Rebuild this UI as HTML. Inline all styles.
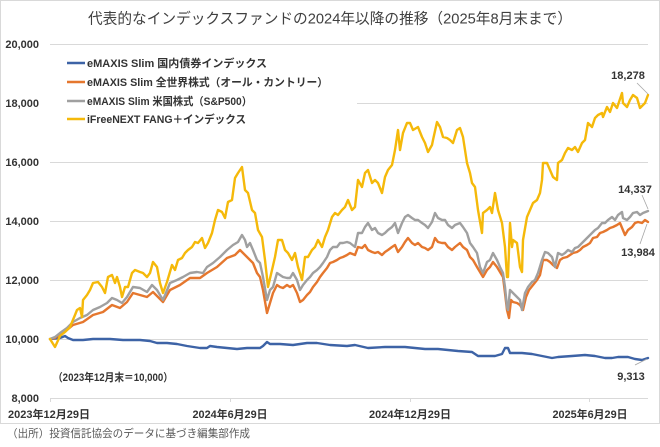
<!DOCTYPE html>
<html>
<head>
<meta charset="utf-8">
<style>
  html, body { margin: 0; padding: 0; background: #ffffff; }
  svg { display: block; }
  text { font-family: "Liberation Sans", "Noto Sans CJK JP", sans-serif; }
</style>
</head>
<body>
<svg width="660" height="447" viewBox="0 0 660 447" xmlns="http://www.w3.org/2000/svg">
  <rect x="0" y="0" width="660" height="447" fill="#ffffff"/>
  <rect x="0.5" y="0.5" width="659" height="423" fill="none" stroke="#d9d9d9" stroke-width="1"/>

  <!-- Title -->
  <text x="330" y="23.5" text-anchor="middle" font-size="15" fill="#404040" textLength="484" lengthAdjust="spacingAndGlyphs">代表的なインデックスファンドの2024年以降の推移（2025年8月末まで）</text>

  <!-- Gridlines -->
  <g stroke="#d9d9d9" stroke-width="1">
    <line x1="50" y1="44.5" x2="648" y2="44.5"/>
    <line x1="50" y1="103.5" x2="648" y2="103.5"/>
    <line x1="50" y1="162.5" x2="648" y2="162.5"/>
    <line x1="50" y1="221.5" x2="648" y2="221.5"/>
    <line x1="50" y1="280.5" x2="648" y2="280.5"/>
    <line x1="50" y1="339.5" x2="648" y2="339.5"/>
    <line x1="50" y1="398.5" x2="648" y2="398.5"/>
    <line x1="50.5" y1="398" x2="50.5" y2="402"/>
    <line x1="230.5" y1="398" x2="230.5" y2="402"/>
    <line x1="410.5" y1="398" x2="410.5" y2="402"/>
    <line x1="589.5" y1="398" x2="589.5" y2="402"/>
  </g>

  <!-- Y labels -->
  <g font-size="11" font-weight="bold" fill="#333333" text-anchor="end">
    <text x="39" y="48">20,000</text>
    <text x="39" y="107">18,000</text>
    <text x="39" y="166">16,000</text>
    <text x="39" y="225">14,000</text>
    <text x="39" y="284">12,000</text>
    <text x="39" y="343">10,000</text>
    <text x="39" y="402">8,000</text>
  </g>

  <!-- X labels -->
  <g font-size="11" font-weight="bold" fill="#333333" text-anchor="middle">
    <text x="49" y="418" textLength="82" lengthAdjust="spacingAndGlyphs">2023年12月29日</text>
    <text x="230" y="418" textLength="75" lengthAdjust="spacingAndGlyphs">2024年6月29日</text>
    <text x="410" y="418" textLength="82" lengthAdjust="spacingAndGlyphs">2024年12月29日</text>
    <text x="590" y="418" textLength="75" lengthAdjust="spacingAndGlyphs">2025年6月29日</text>
  </g>

  <!-- Legend -->
  <rect x="50" y="52" width="307" height="76" fill="#ffffff"/>
  <g stroke-width="2.4">
    <line x1="67" y1="63" x2="85" y2="63" stroke="#3d63a6"/>
    <line x1="67" y1="82" x2="85" y2="82" stroke="#e5772e"/>
    <line x1="67" y1="101" x2="85" y2="101" stroke="#a0a0a0"/>
    <line x1="67" y1="119" x2="85" y2="119" stroke="#f5b90a"/>
  </g>
  <g font-size="11" font-weight="bold" fill="#333333">
    <text x="87" y="67" textLength="180" lengthAdjust="spacingAndGlyphs">eMAXIS Slim 国内債券インデックス</text>
    <text x="87" y="86" textLength="241" lengthAdjust="spacingAndGlyphs">eMAXIS Slim 全世界株式（オール・カントリー）</text>
    <text x="87" y="105" textLength="165" lengthAdjust="spacingAndGlyphs">eMAXIS Slim 米国株式（S&amp;P500）</text>
    <text x="87" y="123" textLength="159" lengthAdjust="spacingAndGlyphs">iFreeNEXT FANG＋インデックス</text>
  </g>

  <!-- Series -->
  <g fill="none" stroke-width="2.4" stroke-linejoin="round" stroke-linecap="round">
    <polyline stroke="#3d63a6" points="50,339 60,338 65,336 68,338 73,340 83,340 93,339 110,339 123,340 140,340 150,341 157,343 167,343 177,344 187,346 200,348 207,348 210,346 217,347 227,348 237,349 247,348 260,348 263,346 267,342 270,344 280,344 293,345 307,343 317,343 330,345 347,346 355,345 368,348 385,347 405,347 425,349 438,349 458,351 472,352 478,356 495,356 502,354 505,348 508,348 510,353 522,353 532,354 542,356 552,358 558,357 572,356 585,355 595,356 605,358 612,358 618,357 628,357 635,359 642,360 648,358"/>
    <polyline stroke="#e5772e" points="50,339 55,338 60,334 67,330 73,325 83,322 93,315 103,312 112,305 120,308 127,302 133,293 140,295 147,297 153,292 163,302 170,290 180,285 190,278 200,278 207,273 217,267 227,258 235,255 240,250 243,253 247,257 250,260 253,263 257,273 260,277 263,290 267,313 270,303 273,293 277,285 280,287 283,288 287,285 290,287 293,285 297,293 300,302 303,300 307,295 310,292 313,287 317,282 320,277 323,273 327,268 330,263 333,262 337,260 340,258 343,257 347,255 350,253 355,255 358,247 362,248 365,245 368,250 372,252 375,253 378,252 382,255 385,252 388,250 392,247 395,245 398,252 402,247 405,242 408,238 412,243 415,245 418,243 422,247 425,248 428,250 432,247 435,238 438,242 442,243 445,243 448,247 452,250 455,247 460,243 463,247 467,250 470,257 473,260 477,267 480,272 483,277 487,270 490,267 493,262 497,267 500,272 503,277 505,293 507,310 509,318 511,300 513,302 517,303 520,305 523,310 526,297 529,290 533,285 537,280 540,275 543,260 547,260 550,262 553,265 557,268 560,260 563,258 567,257 570,255 573,253 577,252 580,250 583,247 587,245 590,243 593,238 597,237 600,233 603,232 607,230 610,228 613,227 617,225 620,223 625,235 628,230 632,227 635,223 638,222 642,223 645,220 648,222"/>
    <polyline stroke="#a0a0a0" points="50,339 55,337 60,333 67,328 73,322 80,318 87,315 93,310 100,307 107,303 112,298 117,300 122,303 127,297 133,287 140,288 147,292 152,285 157,290 163,300 170,283 177,280 183,277 190,273 197,272 203,273 207,267 213,263 220,257 227,250 233,245 238,242 242,235 245,240 247,247 250,243 253,250 257,260 260,263 263,277 267,300 270,290 273,287 277,273 280,275 283,277 287,278 290,278 293,273 297,280 300,290 303,285 307,280 310,277 313,273 317,270 320,267 323,263 327,257 330,250 333,247 337,247 340,243 343,243 347,242 350,243 355,247 358,233 362,233 365,227 368,223 372,230 375,228 378,233 382,235 385,233 388,230 392,227 395,223 398,233 402,223 405,217 408,215 412,218 415,220 418,220 422,223 425,225 428,228 432,222 435,213 438,218 442,220 445,220 448,225 452,228 455,225 460,223 463,227 467,233 470,243 473,247 477,253 480,267 483,273 487,262 490,260 493,253 497,260 500,267 503,273 505,287 507,307 508,310 510,290 513,293 517,297 520,300 522,310 525,293 528,287 532,282 535,280 538,273 542,260 545,252 548,253 552,257 555,267 558,253 562,255 565,253 568,250 572,252 575,248 578,247 582,243 585,240 588,237 592,233 595,230 598,228 602,223 605,223 608,220 612,217 615,220 618,215 622,212 623,218 627,220 630,217 633,213 637,212 640,215 643,213 648,211"/>
    <polyline stroke="#f5b90a" points="50,339 55,347 60,336 65,332 70,327 75,315 77,310 80,308 82,317 83,300 87,295 90,290 93,283 98,282 102,287 105,293 108,277 112,275 115,283 117,277 120,287 122,297 125,287 128,287 132,273 135,270 140,272 143,273 147,277 150,273 153,262 157,267 160,283 163,293 167,282 172,265 175,270 178,260 182,258 185,253 188,250 192,247 195,242 198,243 202,238 205,248 208,243 212,233 215,220 218,210 222,212 225,218 228,202 232,200 235,178 238,173 242,167 245,190 248,193 252,210 255,213 258,230 262,237 265,260 268,287 272,270 275,257 278,240 282,240 285,250 288,253 292,260 295,253 298,267 302,280 305,257 308,257 312,250 315,247 318,240 322,247 325,237 328,230 332,217 335,213 338,215 342,210 345,207 348,200 352,210 355,207 358,180 362,187 365,173 368,170 372,183 375,180 378,183 382,193 385,177 388,170 392,165 395,150 398,130 400,150 403,133 407,123 410,123 413,130 418,127 422,137 425,143 428,152 432,145 433,140 437,122 440,127 443,137 447,138 450,140 453,143 457,130 460,128 463,137 467,163 470,173 472,183 475,187 478,210 482,233 483,213 487,210 490,207 492,213 495,193 498,210 502,223 505,247 507,277 508,277 510,223 512,247 513,240 517,243 520,267 522,272 523,240 527,217 530,210 533,203 537,200 540,193 542,180 543,163 547,163 550,170 553,177 557,180 558,163 562,160 565,153 568,148 572,150 575,147 578,152 582,143 585,140 588,123 592,127 595,118 598,115 602,113 603,117 607,107 610,112 613,103 617,108 622,93 623,103 627,107 630,100 633,95 637,98 640,108 643,105 645,103 648,95"/>
  </g>

  <!-- Data label leader lines -->
  <g stroke="#a6a6a6" stroke-width="0.8">
    <line x1="637" y1="83" x2="648" y2="94"/>
    <line x1="642" y1="195" x2="648" y2="209"/>
    <line x1="647" y1="224" x2="640" y2="244"/>
    <line x1="635" y1="365" x2="647" y2="359"/>
  </g>

  <!-- Data labels -->
  <g font-size="11" font-weight="bold" fill="#333333" text-anchor="middle">
    <text x="628" y="79">18,278</text>
    <text x="635" y="193">14,337</text>
    <text x="638" y="256">13,984</text>
    <text x="631" y="380">9,313</text>
  </g>

  <!-- Base note -->
  <text x="53" y="381" font-size="11" font-weight="bold" fill="#333333" textLength="120" lengthAdjust="spacingAndGlyphs">（2023年12月末＝10,000）</text>

  <!-- Source -->
  <text x="7" y="437" font-size="11" fill="#595959" textLength="243" lengthAdjust="spacingAndGlyphs">（出所）投資信託協会のデータに基づき編集部作成</text>
</svg>
</body>
</html>
